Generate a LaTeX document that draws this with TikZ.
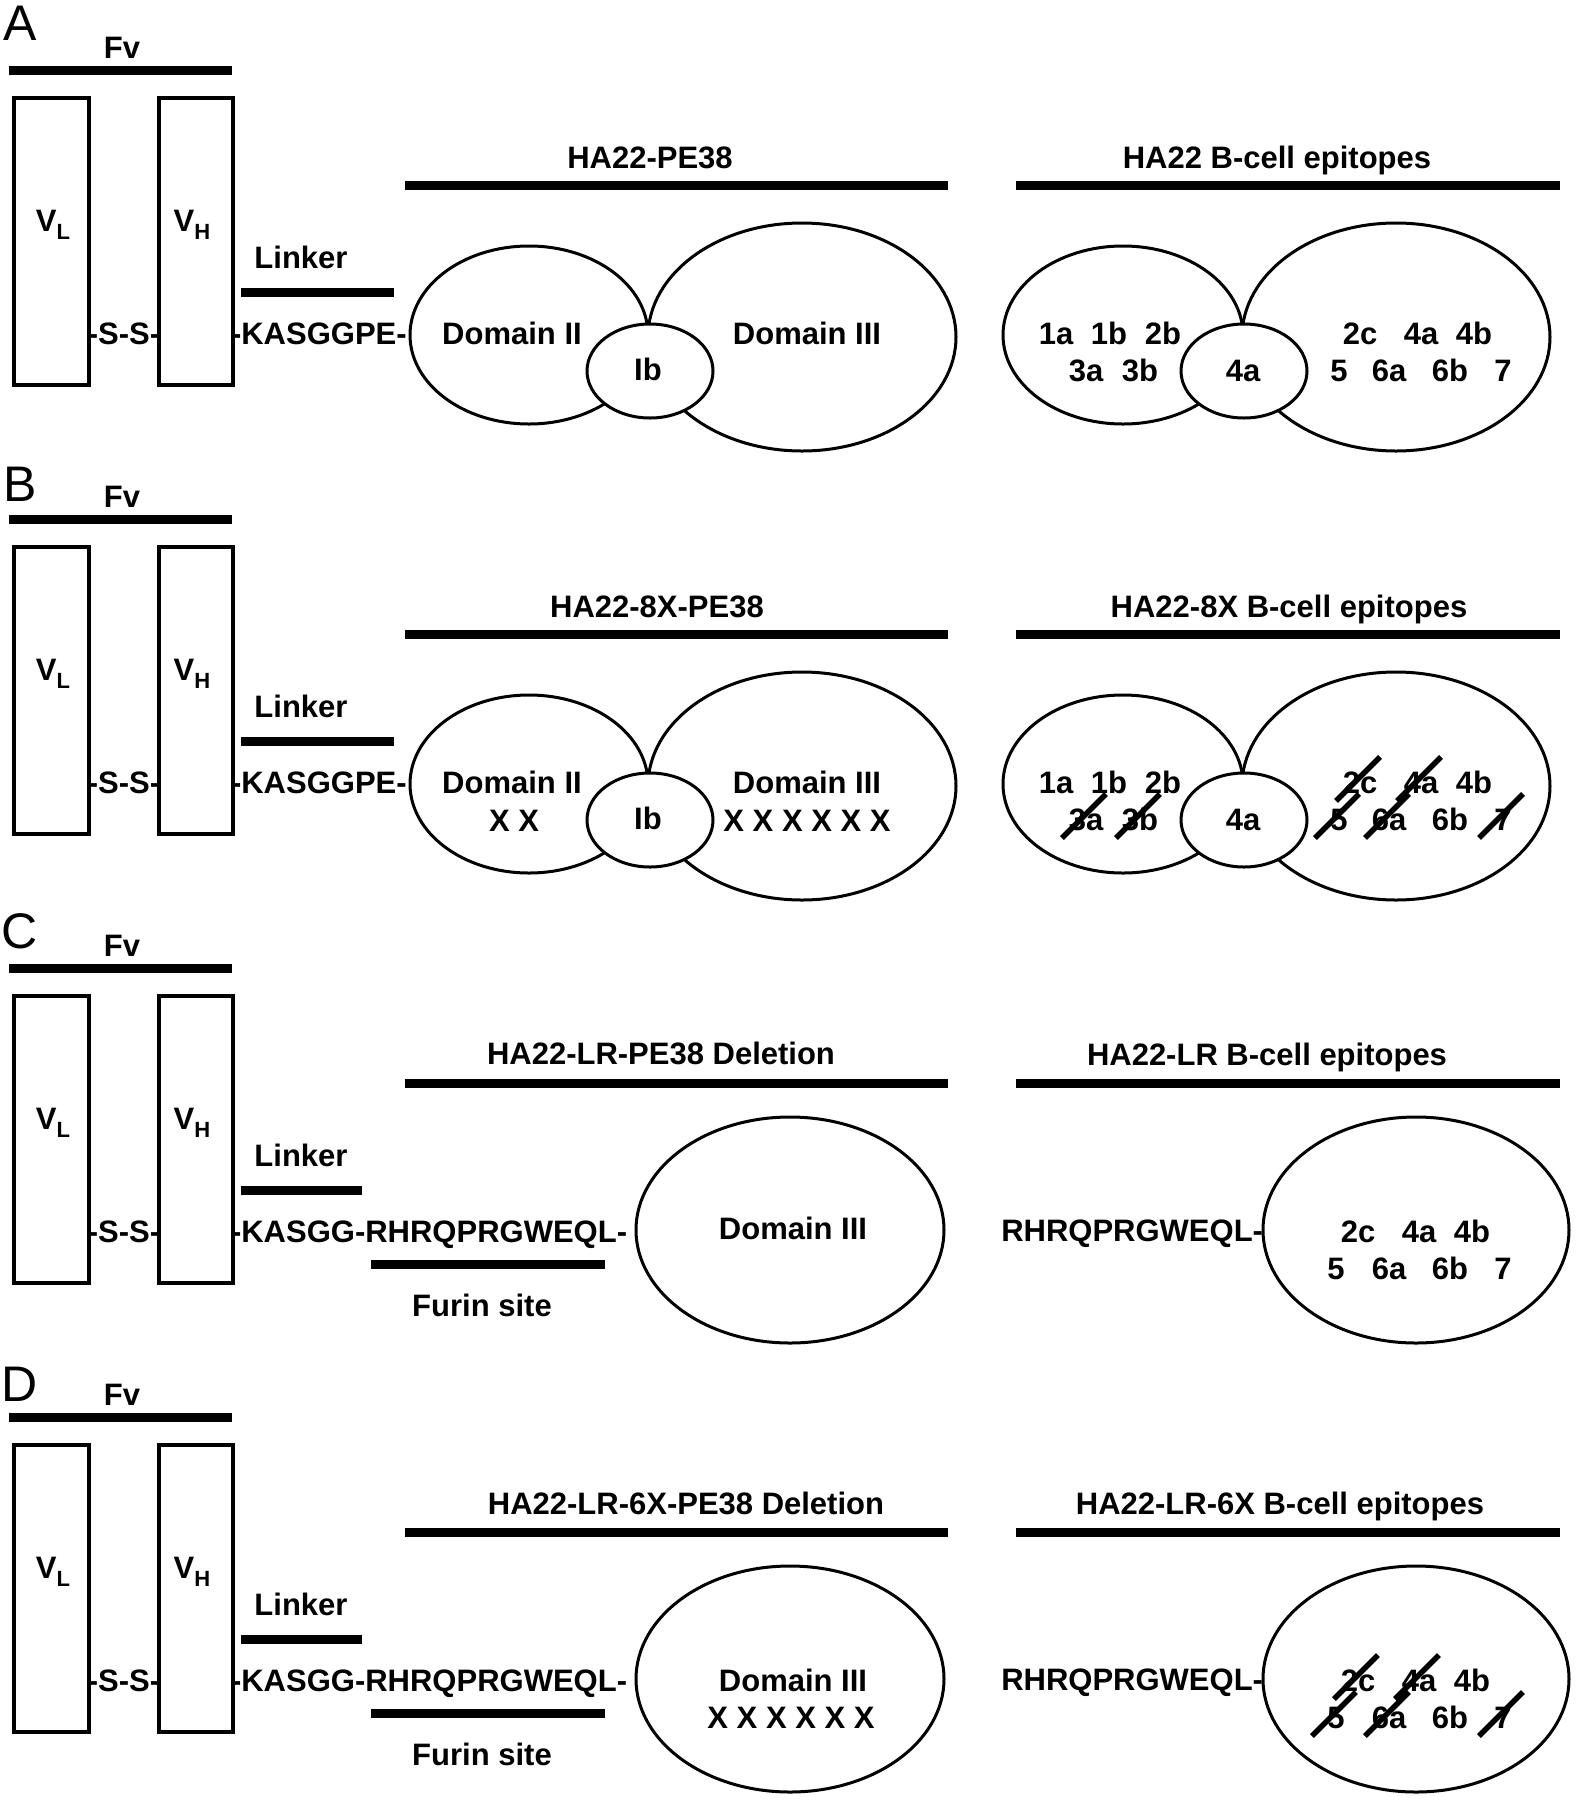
\documentclass[tikz,border=0pt]{standalone}
\usepackage{fontspec}
\setmainfont{Liberation Sans}
\usetikzlibrary{shapes.geometric,calc}
\newcommand\mysub[1]{{\fontsize{22}{22}\selectfont #1}}
\tikzset{
  lbl/.style={inner sep=0pt, outer sep=0pt, text height=22.2pt, text depth=0pt, font=\fontsize{31}{37}\selectfont\bfseries},
  bar/.style={line width=9pt},
  box/.style={draw, line width=4.5pt, inner sep=0pt, outer sep=0pt},
  ell/.style={draw, ellipse, line width=3pt, inner sep=0pt, outer sep=0pt},
  strike/.style={line width=5.5pt},
  panel/.style={inner sep=0pt, text height=36pt, text depth=0pt, font=\fontsize{50}{60}\selectfont},
}
% #1 suffix, #2 y offset, #3 linker bar end, #4 sequence
\newcommand\fvpart[4]{%
\begin{scope}[yshift=-#2pt]
  \node[lbl] (fv#1) at (122,47) {Fv};
  \draw[bar] (9,70) -- (232,70);
  \node[box, minimum width=75pt, minimum height=287pt] (vl#1) at (51.5,241.5) {};
  \node[box, minimum width=74pt, minimum height=287pt] (vh#1) at (196,241.5) {};
  \node[lbl] (vlt#1) at (53,220) {V\raisebox{-8pt}{\mysub{L}}};
  \node[lbl] (vht#1) at (192,220) {V\raisebox{-8pt}{\mysub{H}}};
  \node[lbl] (lk#1) at (301,257) {Linker};
  \draw[bar] (241,292) -- (#3,292);
  \node[lbl] (ss#1) at (124,333) {-S-S-};
  \node[lbl, anchor=west] (seq#1) at (231,333) {#4};
\end{scope}}
% full two-lobe PE38 (middle) : #1 suffix, #2 offset, #3 title, #4 title x
\newcommand\midfull[4]{%
\begin{scope}[yshift=-#2pt]
  \node[lbl] (tm#1) at (#4,157) {#3};
  \draw[bar] (405,185) -- (948,185);
  \node[ell, minimum width=238pt, minimum height=178pt] (dii#1) at (529,335) {};
  \node[ell, minimum width=308pt, minimum height=228pt] (diii#1) at (802,337) {};
  \node[ell, fill=white, minimum width=126pt, minimum height=94pt] (ib#1) at (650,371) {};
  \node[lbl] (diit#1) at (512,333) {Domain II};
  \node[lbl] (diiit#1) at (807,333) {Domain III};
  \node[lbl] (ibt#1) at (648,369) {Ib};
\end{scope}}
% full epitopes (right)
\newcommand\rightfull[4]{%
\begin{scope}[yshift=-#2pt]
  \node[lbl] (tr#1) at (#4,157) {#3};
  \draw[bar] (1016,185) -- (1560,185);
  \node[ell, minimum width=240pt, minimum height=178pt] (el#1) at (1123,335) {};
  \node[ell, minimum width=308pt, minimum height=228pt] (er#1) at (1396,337) {};
  \node[ell, fill=white, minimum width=126pt, minimum height=94pt] (es#1) at (1244,371) {};
  \foreach \t/\n/\x/\y in {1a/e1a/1056/333, 1b/e1b/1109/333, 2b/e2b/1163/333,
      3a/e3a/1086/370, 3b/e3b/1140/370, 4a/e4s/1243/370,
      2c/e2c/1360/333, 4a/e4a/1421/333, 4b/e4b/1474/333,
      5/e5/1339/370, 6a/e6a/1389/370, 6b/e6b/1450/370, 7/e7/1503/370}
    {\node[lbl] (\n#1) at (\x,\y) {\t};}
\end{scope}}
% deletion epitopes (right)
\newcommand\rightdel[4]{%
\begin{scope}[yshift=-#2pt]
  \node[lbl] (tr#1) at (#4,156) {#3};
  \draw[bar] (1016,185) -- (1560,185);
  \node[ell, minimum width=306pt, minimum height=226pt] (er#1) at (1416,332) {};
  \node[lbl, anchor=east] (rseq#1) at (er#1.west) {RHRQPRGWEQL-};
  \foreach \t/\n/\x/\y in {2c/e2c/1358/333, 4a/e4a/1419/333, 4b/e4b/1472/333,
      5/e5/1336/370, 6a/e6a/1389/370, 6b/e6b/1450/370, 7/e7/1503/370}
    {\node[lbl] (\n#1) at (\x,\y) {\t};}
\end{scope}}
\newcommand\strikeout[1]{\draw[strike] ($(#1)+(-24,19)$) -- ($(#1)+(20,-25)$);}
\newcommand\furin[2]{%
\begin{scope}[yshift=-#2pt]
  \draw[bar] (371,366) -- (605,366);
  \node[lbl] (fu#1) at (482,407) {Furin site};
\end{scope}}

\begin{document}
\begin{tikzpicture}[x=1pt,y=-1pt]
\useasboundingbox (0,0) rectangle (1576,1800);
\fill[white] (0,0) rectangle (1576,1800);

\node[panel] (pA) at (20,22) {A};
\node[panel] (pB) at (20,483) {B};
\node[panel] (pC) at (20,930) {C};
\node[panel] (pD) at (20,1383) {D};

% Panel A
\fvpart{A}{0}{394}{-KASGGPE-}
\midfull{A}{0}{HA22-PE38}{650}
\rightfull{A}{0}{HA22 B-cell epitopes}{1277}

% Panel B
\fvpart{B}{449}{394}{-KASGGPE-}
\midfull{B}{449}{HA22-8X-PE38}{657}
\begin{scope}[yshift=-449pt]
  \node[lbl] (xiiB) at (514,371) {X X};
  \node[lbl] (xiiiB) at (807,371) {X X X X X X};
\end{scope}
\rightfull{B}{449}{HA22-8X B-cell epitopes}{1289}
\strikeout{e3aB}
\strikeout{e3bB}
\strikeout{e2cB}
\strikeout{e4aB}
\strikeout{e5B}
\strikeout{e6aB}
\strikeout{e7B}

% Panel C
\fvpart{C}{898}{362}{-KASGG-RHRQPRGWEQL-}
\furin{C}{898}
\begin{scope}[yshift=-898pt]
  \node[lbl] (tmC) at (661,155) {HA22-LR-PE38 Deletion};
  \draw[bar] (405,185) -- (948,185);
  \node[ell, minimum width=308pt, minimum height=226pt] (diiiC) at (790,332) {};
  \node[lbl] (diiitC) at (793,330) {Domain III};
\end{scope}
\rightdel{C}{898}{HA22-LR B-cell epitopes}{1267}

% Panel D
\fvpart{D}{1347}{362}{-KASGG-RHRQPRGWEQL-}
\furin{D}{1347}
\begin{scope}[yshift=-1347pt]
  \node[lbl] (tmD) at (686,156) {HA22-LR-6X-PE38 Deletion};
  \draw[bar] (405,185) -- (948,185);
  \node[ell, minimum width=308pt, minimum height=226pt] (diiiD) at (790,332) {};
  \node[lbl] (diiitD) at (793,333) {Domain III};
  \node[lbl] (xiiiD) at (791,370) {X X X X X X};
\end{scope}
\rightdel{D}{1347}{HA22-LR-6X B-cell epitopes}{1280}
\strikeout{e2cD}
\strikeout{e4aD}
\strikeout{e5D}
\strikeout{e6aD}
\strikeout{e7D}
\end{tikzpicture}
\end{document}
